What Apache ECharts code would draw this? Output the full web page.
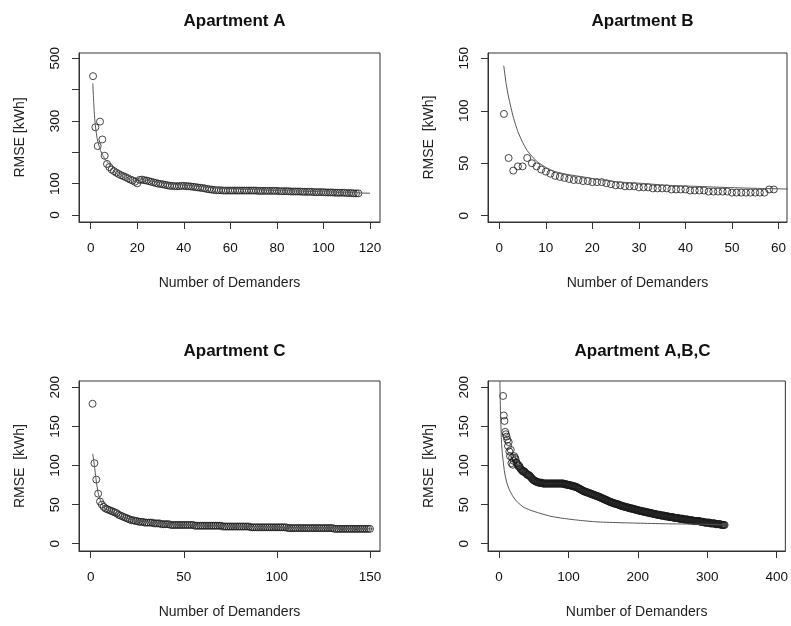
<!DOCTYPE html>
<html>
<head>
<meta charset="utf-8">
<script src="https://cdn.jsdelivr.net/npm/echarts@6/dist/echarts.min.js"></script>
<style>
html, body { margin: 0; padding: 0; background: #fff; }
#chart { width: 791px; height: 626px; }
</style>
</head>
<body>
<div id="chart"></div>
<script>
// RMSE per number of demanders, first point is x = start
var aStart = 1;
var aValues = [443,280,220,298,241,189,163,153,145,140,
  135,131,127,124,121,117,113,110,106,101,
  112,113,111,110,108,106,104,102,100,99,
  98,96,95,93,93,92,92,92,93,93,
  92,92,91,90,89,88,87,86,85,83,
  82,81,80,79,79,79,78,78,78,78,
  78,78,78,78,78,78,78,78,78,78,
  78,77,77,77,77,77,77,77,77,77,
  76,76,76,76,76,75,75,75,75,75,
  74,74,74,74,74,73,73,73,73,73,
  72,72,72,72,71,71,71,71,71,70,
  70,70,69,69,69];
var aFitX = [0.9,1.5,2,2.6,3,4,5,6,8,10,12,15,20,25,30,40,50,60,70,80,90,100,110,120];
var aFitY = [420,330,285,252,236,210,193,180,162,149,140,129,117,109,103,95,89,85,81,78,76,74,71.5,69.5];

var bStart = 1;
var bValues = [97,55,43,47,47,55,50,47,44,42,
  40,38,37,36,35,34,34,33,33,32,
  32,32,31,30,29,29,28,28,28,27,
  27,27,26,26,26,26,25,25,25,25,
  24,24,24,24,23,23,23,23,23,22,
  22,22,22,22,22,22,22,25,25];
var bFitX = [0.95,1.5,2,3,4,5,6,8,10,12,15,18,22,26,30,36,42,50,56,62.2];
var bFitY = [143,125,113,94,80,70,62,52,46,42,39,37,34,32,31,29,28,26.7,26,25.4];

var cStart = 1;
var cValues = [179,103,82,64,54,50,47,45,44,43,
  42,41,40,39,37,36,35,34,33,32,
  31,30,30,29,29,28,28,28,27,27,
  27,27,27,26,26,26,26,25,25,25,
  25,25,24,24,24,24,24,24,24,24,
  24,24,24,24,24,23,23,23,23,23,
  23,23,23,23,23,23,23,23,23,23,
  22,22,22,22,22,22,22,22,22,22,
  22,22,22,22,22,21,21,21,21,21,
  21,21,21,21,21,21,21,21,21,21,
  21,21,21,21,21,20,20,20,20,20,
  20,20,20,20,20,20,20,20,20,20,
  20,20,20,20,20,20,20,20,20,20,
  19,19,19,19,19,19,19,19,19,19,
  19,19,19,19,19,19,19,19,19,19];
var cFitX = [1.05,1.5,2,3,4,5,6,8,10,15,20,30,40,50,70,100,130,152];
var cFitY = [115,108,100,80,65,57,51,45,42,36,32,28,26,24.5,23,21,20,19];

var dStart = 6;
var dValues = [189,164,157,143,140,
  137,133,125,130,118,112,120,103,110,101,
  106,112,110,108,104,103,101,99,100,98,
  96,95,94,93,92,93,92,91,90,89,
  88,88,88,87,86,85,84,83,82,81,
  81,80,80,79,79,79,78,78,78,78,
  78,78,77,77,77,77,77,77,77,77,
  77,77,77,77,77,77,77,77,77,77,
  77,77,77,77,77,77,77,77,77,77,
  77,77,77,76,76,76,76,76,75,75,
  75,75,75,74,74,74,74,73,73,73,
  73,72,72,71,71,70,70,69,69,68,
  68,67,67,67,66,66,66,65,65,65,
  64,64,64,63,63,63,62,62,62,61,
  61,61,60,60,60,59,59,58,58,58,
  57,57,56,56,56,55,55,54,54,54,
  53,53,53,52,52,52,51,51,51,51,
  50,50,50,49,49,49,48,48,48,48,
  47,47,47,47,46,46,46,46,45,45,
  45,45,45,44,44,44,44,43,43,43,
  43,42,42,42,42,42,41,41,41,41,
  41,40,40,40,40,40,39,39,39,39,
  39,38,38,38,38,38,37,37,37,37,
  37,37,36,36,36,36,36,36,35,35,
  35,35,35,35,34,34,34,34,34,34,
  34,33,33,33,33,33,33,33,32,32,
  32,32,32,32,32,31,31,31,31,31,
  31,31,30,30,30,30,30,30,30,29,
  29,29,29,29,29,29,29,29,29,28,
  28,28,28,28,28,27,27,27,27,27,
  27,27,27,26,26,26,26,26,26,26,
  26,25,25,25,25,25,25,25,25,24,
  24,24,24,24,24];
var dFitX = [1.4,1.8,2.4,2.9,3.8,5,6.2,8,11,15,20.5,27,35,45,58.7,75,92,115,140,170,200,240,288,325];
var dFitY = [208,185,162,150,128,114,105,92,79,69,60,53,47,43,39,35,32.5,30,28,27,26.3,25.5,25,24];

var titles = ['Apartment A', 'Apartment B', 'Apartment C', 'Apartment A,B,C'];
var yNames = ['RMSE [kWh]', 'RMSE  [kWh]', 'RMSE  [kWh]', 'RMSE  [kWh]'];
var xTicks = [[0,20,40,60,80,100,120], [0,10,20,30,40,50,60], [0,50,100,150], [0,100,200,300,400]];
var yTicks = [[0,100,200,300,400,500], [0,50,100,150], [0,50,100,150,200], [0,50,100,150,200]];
var yLabels = [[0,100,300,500], [0,50,100,150], [0,50,100,150,200], [0,50,100,150,200]];

// panel boxes (px) and the axis ranges that fill them
var boxes = [
  { left: 79, top: 53, width: 301, height: 169 },
  { left: 488, top: 53, width: 299, height: 169 },
  { left: 79, top: 381, width: 301, height: 170 },
  { left: 488, top: 381, width: 299, height: 170 }
];
var xRange = [[-5.03, 124.3], [-2.43, 61.83], [-6.28, 155.4], [-15.75, 412.4]];
var yRange = [[-22.3, 516.9], [-6.0, 155.05], [-9.3, 208.1], [-9.3, 208.1]];

var FONT = '"Liberation Sans", Arial, Helvetica, sans-serif';

function toPoints(start, vals) {
  return vals.map(function (v, i) { return [start + i, v]; });
}
function toPairs(xs, ys) {
  return xs.map(function (x, i) { return [x, ys[i]]; });
}

var chart = echarts.init(document.getElementById('chart'));

var title = [], grid = [], xAxis = [], yAxis = [];
for (var i = 0; i < 4; i++) {
  var b = boxes[i];
  title.push({
    text: titles[i],
    left: b.left + b.width / 2,
    top: i < 2 ? 8 : 338,
    textAlign: 'center',
    textStyle: { fontFamily: FONT, fontSize: 17, fontWeight: 'bold', color: '#111' }
  });
  grid.push({
    left: b.left, top: b.top, width: b.width, height: b.height,
    show: true, borderColor: '#333', borderWidth: 1, containLabel: false
  });
  xAxis.push({
    type: 'value', gridIndex: i, min: xRange[i][0], max: xRange[i][1],
    name: 'Number of Demanders', nameLocation: 'middle', nameGap: 54,
    nameTextStyle: { fontFamily: FONT, fontSize: 14, color: '#222' },
    axisLine: { show: true, onZero: false, lineStyle: { color: '#333' } },
    axisTick: { show: true, length: 7, customValues: xTicks[i], lineStyle: { color: '#333' } },
    axisLabel: { customValues: xTicks[i], fontFamily: FONT, fontSize: 13.5, margin: 19, color: '#111' },
    splitLine: { show: false }
  });
  yAxis.push({
    type: 'value', gridIndex: i, min: yRange[i][0], max: yRange[i][1],
    name: yNames[i], nameLocation: 'middle', nameGap: 52, nameRotate: 90,
    nameTextStyle: { fontFamily: FONT, fontSize: 14, color: '#222' },
    axisLine: { show: true, onZero: false, lineStyle: { color: '#333' } },
    axisTick: { show: true, length: 7, customValues: yTicks[i], lineStyle: { color: '#333' } },
    axisLabel: { customValues: yLabels[i], rotate: 90, fontFamily: FONT, fontSize: 13.5, margin: 17, color: '#111' },
    splitLine: { show: false }
  });
}

var sets = [
  [aStart, aValues, aFitX, aFitY],
  [bStart, bValues, bFitX, bFitY],
  [cStart, cValues, cFitX, cFitY],
  [dStart, dValues, dFitX, dFitY]
];
var series = [];
sets.forEach(function (s, i) {
  series.push({
    type: 'scatter', xAxisIndex: i, yAxisIndex: i,
    data: toPoints(s[0], s[1]),
    symbol: 'circle', symbolSize: 7,
    itemStyle: { color: 'rgba(0,0,0,0)', borderColor: '#1a1a1a', borderWidth: 1 },
    emphasis: { disabled: true }
  });
  series.push({
    type: 'line', xAxisIndex: i, yAxisIndex: i,
    data: toPairs(s[2], s[3]),
    showSymbol: false, smooth: 0.2,
    lineStyle: { color: '#555', width: 1 },
    emphasis: { disabled: true }
  });
});

chart.setOption({
  animation: false,
  backgroundColor: '#fff',
  title: title,
  grid: grid,
  xAxis: xAxis,
  yAxis: yAxis,
  series: series
});
</script>
</body>
</html>
